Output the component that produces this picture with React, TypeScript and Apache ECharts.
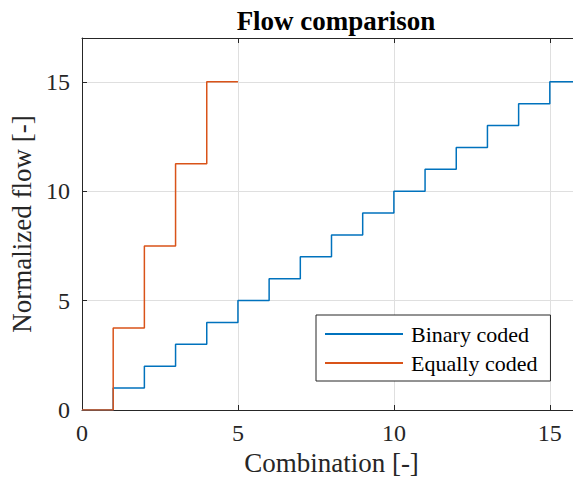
import React, { useEffect, useRef } from "react";
import * as echarts from "echarts";

const binaryX = [0, 1, 2, 3, 4, 5, 6, 7, 8, 9, 10, 11, 12, 13, 14, 15, 16];
const binaryY = [0, 1, 2, 3, 4, 5, 6, 7, 8, 9, 10, 11, 12, 13, 14, 15, 15];
const equalX = [0, 1, 2, 3, 4, 5];
const equalY = [0, 3.75, 7.5, 11.25, 15, 15];
const seriesNames = ["Binary coded", "Equally coded"];
const titleText = "Flow comparison";
const xName = "Combination [-]";
const yName = "Normalized flow [-]";

const FONT = "Liberation Serif, Times New Roman, serif";
const AX = "#262626";

export default function App() {
  const ref = useRef<HTMLDivElement>(null);
  useEffect(() => {
    if (!ref.current) return;
    const chart = echarts.init(ref.current, undefined, { renderer: "svg" });
    const bin = binaryX.map((x, i) => [x, binaryY[i]]);
    const eq = equalX.map((x, i) => [x, equalY[i]]);
    chart.setOption({
      animation: false,
      backgroundColor: "#fff",
      title: {
        text: titleText,
        left: 331,
        textAlign: "center",
        top: 2,
        textStyle: { fontFamily: FONT, fontSize: 27, fontWeight: "bold", color: "#000" },
      },
      grid: { left: 82, top: 38, width: 499, height: 372, show: false },
      legend: {
        orient: "vertical",
        left: 316,
        top: 315,
        padding: [8, 13, 7, 9],
        itemWidth: 78,
        itemHeight: 2,
        itemGap: 7,
        icon: "rect",
        backgroundColor: "#fff",
        borderColor: AX,
        borderWidth: 1,
        borderRadius: 0,
        textStyle: { fontFamily: FONT, fontSize: 22, color: "#000", lineHeight: 22, padding: [0, 0, 0, 3] },
        data: seriesNames,
      },
      xAxis: [
        {
          type: "value",
          min: 0,
          max: 16,
          interval: 5,
          name: xName,
          nameLocation: "middle",
          nameGap: 38,
          nameTextStyle: { fontFamily: FONT, fontSize: 27, color: AX },
          axisLine: { show: true, lineStyle: { color: AX, width: 1 } },
          axisTick: { show: true, inside: true, length: 5, lineStyle: { color: AX } },
          axisLabel: { fontFamily: FONT, fontSize: 24, color: AX, margin: 11, showMaxLabel: false },
          splitLine: { show: true, lineStyle: { color: "#dfdfdf", width: 1 } },
        },
        {
          type: "value",
          position: "top",
          min: 0,
          max: 16,
          interval: 5,
          axisLine: { show: true, lineStyle: { color: AX, width: 1 } },
          axisTick: { show: true, inside: true, length: 5, lineStyle: { color: AX } },
          axisLabel: { show: false },
          splitLine: { show: false },
        },
      ],
      yAxis: {
        type: "value",
        min: 0,
        max: 17,
        interval: 5,
        name: yName,
        nameLocation: "middle",
        nameGap: 40,
        nameTextStyle: { fontFamily: FONT, fontSize: 27, color: AX },
        axisLine: { show: true, lineStyle: { color: AX, width: 1 } },
        axisTick: { show: true, inside: true, length: 5, lineStyle: { color: AX } },
        axisLabel: { fontFamily: FONT, fontSize: 24, color: AX, margin: 12, showMaxLabel: false },
        splitLine: { show: true, lineStyle: { color: "#dfdfdf", width: 1 } },
      },
      series: [
        {
          name: seriesNames[0],
          type: "line",
          step: "end",
          data: bin,
          symbol: "none",
          lineStyle: { color: "#0072BD", width: 1.5 },
          itemStyle: { color: "#0072BD" },
          z: 3,
        },
        {
          name: seriesNames[1],
          type: "line",
          step: "end",
          data: eq,
          symbol: "none",
          lineStyle: { color: "#D95319", width: 1.5 },
          itemStyle: { color: "#D95319" },
          z: 4,
        },
      ],
    });
    return () => chart.dispose();
  }, []);
  return (
    <div
      ref={ref}
      style={{ position: "fixed", left: 0, top: 0, width: 620, height: 482, background: "#fff" }}
    />
  );
}
